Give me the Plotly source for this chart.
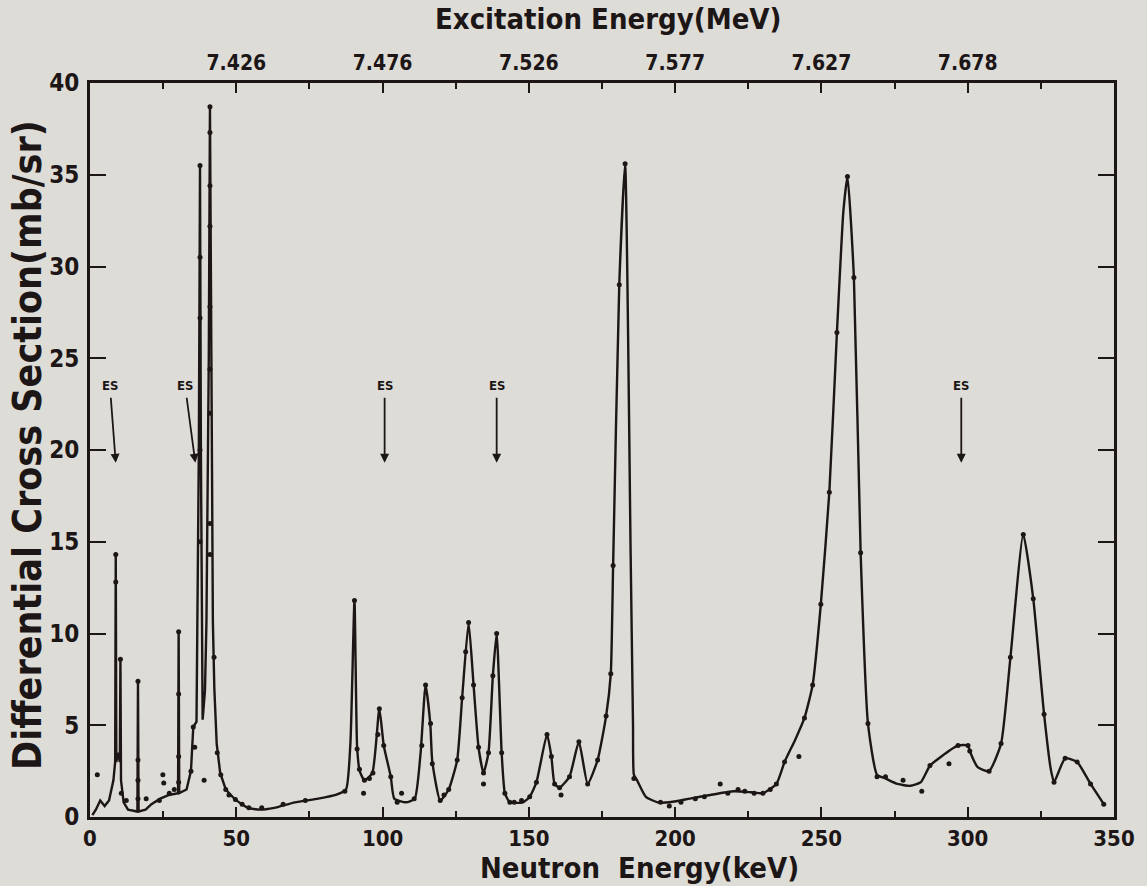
import plotly.graph_objects as go

# ---------------- data ----------------
# narrow low-energy lines (drawn straight), keV / mb/sr
spike_keV = [0.8, 2, 3.5, 5, 6.5, 8, 8.6, 8.8, 9.0, 9.6, 10.2, 10.4, 10.6, 11.5, 13, 16.2, 16.4, 16.6,
             19, 21, 24, 27, 30.1, 30.3, 30.5, 33, 34.5, 35.3, 36.4, 37.2, 37.6, 37.9, 38.5, 39.3,
             39.8, 40.6, 41.0, 41.4, 42.0, 42.5, 43.3, 44.5, 46.4]
spike_xs = [0.1, 0.4, 0.9, 0.6, 0.9, 2.0, 3.0, 14.3, 3.0, 3.5, 3.0, 8.6, 2.0, 0.8, 0.4, 0.3, 7.4, 0.3,
            0.4, 0.7, 1.0, 1.2, 1.3, 10.1, 1.3, 1.5, 2.5, 4.9, 5.2, 20, 35.5, 20, 5.3, 6.9,
            10.6, 25, 38.7, 25, 10.6, 7.0, 4.0, 2.4, 1.5]

# smooth curve through the higher-energy resonances
smooth_keV = [46.4, 49.7, 54, 58, 63, 70, 78, 84,
              87.5, 89, 90.4, 91.3, 92.2, 93.8, 96.5, 98.9, 100.4, 102.8, 104, 108, 111, 113,
              114.7, 116.3, 117, 119.7, 122.6, 125.5, 127.2, 129.4, 131.1, 132.8, 134.5, 136.2,
              137.7, 139, 140.7, 141.8, 143.5, 148, 150.3, 152.6, 156.2, 157.7, 158.8, 160.5,
              163.9, 167.1, 170.1, 173.5, 176.4, 178.0, 178.8, 180.9, 182.9, 184.8, 185.6, 185.9,
              187, 190, 194, 198, 205, 212, 220, 226, 230, 234.6, 237.4, 241, 244.2, 247, 249.8,
              252.7, 255.3, 257.5, 258.9, 261.1, 263.4, 265.9, 269, 271.9, 276, 280.4, 284, 287.1,
              291, 296.7, 300.1, 300.7, 303.5, 307.3, 311.4, 314.6, 319, 322.4, 326.1, 328.4,
              329.5, 333.3, 337.4, 342, 346.5]
smooth_xs = [1.5, 0.95, 0.5, 0.4, 0.5, 0.8, 1.0, 1.2,
             1.5, 4.0, 11.8, 3.8, 2.5, 2.0, 2.4, 5.9, 3.9, 2.2, 1.0, 0.8, 1.0, 3.5,
             7.2, 5.1, 3.0, 0.9, 1.5, 3.1, 6.5, 10.6, 7.2, 3.8, 2.4, 3.5,
             7.7, 10.0, 3.5, 1.3, 0.8, 0.8, 1.1, 1.9, 4.5, 3.3, 1.8, 1.6,
             2.2, 4.1, 1.8, 3.1, 5.5, 7.8, 13.7, 29.0, 35.6, 14.2, 5.0, 2.3,
             2.0, 1.1, 0.8, 0.8, 1.0, 1.2, 1.4, 1.35, 1.3, 1.8, 3.0, 4.2, 5.4, 7.2, 11.6,
             17.7, 26.4, 33.0, 34.9, 29.4, 14.4, 5.1, 2.3, 2.1, 1.8, 1.7, 1.9, 2.8,
             3.3, 3.9, 3.9, 3.6, 2.7, 2.5, 4.0, 8.7, 15.4, 11.9, 5.6, 2.6,
             1.9, 3.2, 3.0, 1.8, 0.7]

# measured points (keV, mb/sr)
point_keV = [2.5, 8.8, 8.8, 10.4, 10.7, 12.4, 16.4, 16.4, 16.4, 16.4, 19.2, 23.7, 24.9, 25.2, 27.1,
             28.8, 30.3, 30.3, 30.3, 30.3, 34.5, 35.3, 35.8, 37.6, 37.6, 37.6, 37.6, 37.6, 39.0,
             41.0, 41.0, 41.0, 41.0, 41.0, 41.0, 41.0, 41.0, 41.0, 42.4, 43.5, 44.7, 46.4, 47.5,
             49.7, 52, 54.3, 58.7, 66, 73.6,
             87.1, 90.4, 91.3, 92.1, 93.8, 95.5, 93.5, 96.7, 98.4, 98.9, 100.4, 102.8, 105,
             106.5, 110.8, 113.4, 114.7, 116.4, 117, 119.7, 121, 122.6, 125.5, 127.2, 128.4,
             129.4, 131.1, 132.8, 134.5, 134.5, 136.2, 137.7, 139, 140.7, 141.8, 143.5, 145,
             147.5, 150.3, 152.6, 156.2, 157.7, 158.8, 160.5, 161, 163.9, 167.1, 170.1, 173.5,
             176.4, 178.0, 178.8, 180.9, 182.9, 185.9, 195, 198, 202, 206.9, 210, 215.4, 218,
             221.5, 223.8, 227, 230, 232.5, 234.6, 237.4, 242.3, 244.2, 247, 249.8, 252.7,
             255.3, 258.9, 261.1, 263.4, 265.9, 269, 271.9, 277.9, 284.3, 287.1, 293.6, 296.7,
             300.1, 300.7, 307.3, 311.4, 314.6, 319, 322.4, 326.1, 329.5, 333.3, 337.4, 342,
             346.5]
point_xs = [2.3, 12.8, 14.3, 8.6, 1.3, 0.9, 7.4, 3.1, 2.0, 1.0, 1.0, 0.9, 2.3, 1.85, 1.3,
            1.5, 10.1, 6.7, 3.3, 1.9, 2.5, 4.9, 3.8, 35.5, 30.5, 27.2, 20, 15, 2.0,
            38.7, 37.3, 34.4, 32.2, 27.8, 24.4, 22.0, 16.0, 14.3, 8.7, 3.5, 2.3, 1.5, 1.2,
            0.95, 0.7, 0.5, 0.5, 0.7, 0.9,
            1.4, 11.8, 3.7, 2.6, 2.0, 2.1, 1.3, 2.4, 4.5, 5.9, 3.9, 2.2, 0.8,
            1.3, 1.0, 3.9, 7.2, 5.1, 2.9, 0.9, 1.2, 1.5, 3.1, 6.5, 9.0,
            10.6, 7.2, 3.8, 2.4, 1.8, 3.5, 7.7, 10.0, 3.5, 1.3, 0.8, 0.8,
            0.9, 1.1, 1.9, 4.5, 3.3, 1.8, 1.6, 1.2, 2.2, 4.1, 1.8, 3.1,
            5.5, 7.8, 13.7, 29.0, 35.6, 2.1, 0.8, 0.6, 0.8, 1.0, 1.1, 1.8, 1.3,
            1.5, 1.4, 1.3, 1.3, 1.5, 1.8, 3.0, 3.3, 5.4, 7.2, 11.6, 17.7,
            26.4, 34.9, 29.4, 14.4, 5.1, 2.2, 2.2, 2.0, 1.4, 2.8, 2.9, 3.9,
            3.9, 3.6, 2.5, 4.0, 8.7, 15.4, 11.9, 5.6, 1.9, 3.2, 3.0, 1.8,
            0.7]

# "ES" markers: label position and arrow tip (keV)
es_label_keV = [6.8, 32.5, 100.7, 139.0, 297.8]
es_tip_keV = [8.8, 36.0, 100.7, 139.0, 297.8]
es_label_y = 23.5
es_tip_y = 19.3

# axis ticks
bottom_ticks = [0, 50, 100, 150, 200, 250, 300, 350]
top_ticks_keV = [50, 100, 150, 200, 250, 300]
top_tick_labels = ["7.426", "7.476", "7.526", "7.577", "7.627", "7.678"]
y_ticks = [0, 5, 10, 15, 20, 25, 30, 35, 40]

# ---------------- figure ----------------
INK = "#1c1616"
BG = "#dedcd6"
FONT = "DejaVu Sans Condensed"

fig = go.Figure()
fig.add_trace(go.Scatter(x=spike_keV, y=spike_xs, mode="lines",
                         line=dict(color=INK, width=2.4), hoverinfo="skip", showlegend=False))
fig.add_trace(go.Scatter(x=smooth_keV, y=smooth_xs, mode="lines",
                         line=dict(color=INK, width=2.4, shape="spline", smoothing=0.5),
                         hoverinfo="skip", showlegend=False))
fig.add_trace(go.Scatter(x=point_keV, y=point_xs, mode="markers",
                         marker=dict(color=INK, size=5), showlegend=False))
# carrier trace for the top (excitation energy) axis
fig.add_trace(go.Scatter(x=top_ticks_keV, y=[None] * len(top_ticks_keV), xaxis="x2",
                         mode="markers", marker=dict(opacity=0), hoverinfo="skip",
                         showlegend=False))

for lx, tx in zip(es_label_keV, es_tip_keV):
    fig.add_annotation(x=tx, y=es_tip_y, ax=lx, ay=es_label_y, xref="x", yref="y",
                       axref="x", ayref="y", text="<b>ES</b>", showarrow=True,
                       arrowhead=2, arrowsize=1, arrowwidth=1.8, arrowcolor=INK,
                       font=dict(family=FONT, size=13, color=INK), standoff=0, startstandoff=3)

# axis titles
fig.add_annotation(text="Neutron\u00a0\u00a0Energy(keV)", xref="paper", yref="paper",
                   x=0.5, y=0, xanchor="center", yanchor="middle", xshift=37, yshift=-51,
                   showarrow=False, font=dict(family=FONT, size=29, color=INK, weight="bold"))
fig.add_annotation(text="Excitation Energy(MeV)", xref="paper", yref="paper",
                   x=0.5, y=1, xanchor="center", yanchor="middle", xshift=6, yshift=64,
                   showarrow=False, font=dict(family=FONT, size=29, color=INK, weight="bold"))
fig.add_annotation(text="Differential Cross Section(mb/sr)", xref="paper", yref="paper",
                   x=0, y=0.5, xanchor="center", yanchor="middle", xshift=-63, yshift=5,
                   textangle=-90, showarrow=False,
                   font=dict(family=FONT, size=39, color=INK, weight="bold"))

tickfont = dict(family=FONT, size=22, color=INK, weight="bold")
toptickfont = dict(family=FONT, size=21, color=INK, weight="bold")

fig.update_layout(
    width=1147, height=886,
    paper_bgcolor=BG, plot_bgcolor=BG,
    margin=dict(l=90, r=25, t=83, b=69),
    font=dict(family=FONT, color=INK),
    xaxis=dict(range=[0, 350], tickmode="array", tickvals=bottom_ticks,
               ticks="inside", ticklen=10, tickwidth=2, tickcolor=INK,
               minor=dict(dtick=25, tick0=0, ticks="inside", ticklen=6, tickwidth=2, tickcolor=INK),
               showline=True, linewidth=3, linecolor=INK, showgrid=False, zeroline=False,
               tickfont=tickfont, ticklabelstandoff=0),
    xaxis2=dict(range=[0, 350], overlaying="x", side="top", anchor="y",
                tickmode="array", tickvals=top_ticks_keV, ticktext=top_tick_labels,
                ticks="inside", ticklen=10, tickwidth=2, tickcolor=INK,
                minor=dict(dtick=25, tick0=0, ticks="inside", ticklen=6, tickwidth=2, tickcolor=INK),
                showline=True, linewidth=3, linecolor=INK, showgrid=False, zeroline=False,
                tickfont=toptickfont, ticklabelstandoff=2),
    yaxis=dict(range=[0, 40], tickmode="array", tickvals=y_ticks,
               ticks="inside", ticklen=16, tickwidth=2, tickcolor=INK, mirror="ticks",
               showline=True, linewidth=3, linecolor=INK, showgrid=False, zeroline=False,
               tickfont=dict(family=FONT, size=24, color=INK, weight="bold"), ticklabelstandoff=3),
)

fig.write_html("out.html", config={"displayModeBar": False},
               post_script="document.body.style.margin='0';document.body.style.background='%s';" % BG)
